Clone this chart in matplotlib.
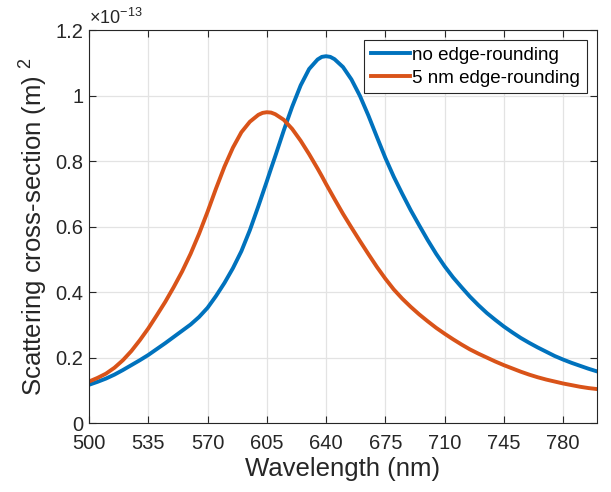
import matplotlib
matplotlib.use('Agg')
import matplotlib.pyplot as plt
from matplotlib.ticker import FuncFormatter

plt.rcParams['font.family'] = ['Liberation Sans', 'DejaVu Sans']
plt.rcParams['mathtext.fontset'] = 'custom'
plt.rcParams['mathtext.rm'] = 'Liberation Sans'
plt.rcParams['mathtext.it'] = 'Liberation Sans'

# wavelength (nm) (finer around the two peaks)
wavelength = [500, 505, 510, 515, 520, 525, 530, 535, 540, 545,
              550, 555, 560, 565, 570, 575, 580, 585, 590, 595,
              600, 602.5, 605, 607.5, 610, 615, 620, 625, 630, 635,
              637.5, 640, 642.5, 645, 650, 655, 660, 665, 670, 675,
              680, 685, 690, 695, 700, 705, 710, 715, 720, 725,
              730, 735, 740, 745, 750, 755, 760, 765, 770, 775,
              780, 785, 790, 795, 800]

# scattering cross-section in units of 1e-13 m^2
no_rounding = [0.117, 0.126, 0.136, 0.148, 0.162, 0.177, 0.192, 0.208, 0.226, 0.244,
               0.263, 0.282, 0.301, 0.324, 0.352, 0.388, 0.428, 0.473, 0.525, 0.589,
               0.662, 0.700, 0.738, 0.777, 0.815, 0.893, 0.966, 1.031, 1.081, 1.110,
               1.118, 1.120, 1.118, 1.111, 1.087, 1.049, 0.999, 0.939, 0.874, 0.810,
               0.752, 0.700, 0.650, 0.604, 0.559, 0.517, 0.479, 0.445, 0.415, 0.386,
               0.360, 0.336, 0.315, 0.295, 0.277, 0.260, 0.245, 0.231, 0.218, 0.205,
               0.194, 0.184, 0.175, 0.166, 0.158]

rounding_5nm = [0.127, 0.138, 0.151, 0.169, 0.192, 0.220, 0.253, 0.289, 0.329, 0.370,
                0.415, 0.463, 0.517, 0.578, 0.645, 0.716, 0.783, 0.841, 0.888, 0.920,
                0.941, 0.947, 0.949, 0.948, 0.943, 0.926, 0.898, 0.862, 0.821, 0.777,
                0.754, 0.730, 0.707, 0.684, 0.639, 0.597, 0.556, 0.516, 0.477, 0.441,
                0.408, 0.380, 0.355, 0.332, 0.311, 0.291, 0.273, 0.256, 0.240, 0.225,
                0.212, 0.200, 0.188, 0.177, 0.167, 0.157, 0.148, 0.140, 0.133, 0.127,
                0.121, 0.116, 0.111, 0.107, 0.104]

labels = ['no edge-rounding', '5 nm edge-rounding']
xticks = [500, 535, 570, 605, 640, 675, 710, 745, 780]
yticks = [0, 0.2, 0.4, 0.6, 0.8, 1.0, 1.2]

dark = '#262626'

fig = plt.figure(figsize=(6.11, 4.92), dpi=100)
ax = fig.add_axes([0.1457, 0.140, 0.8313, 0.799])

ax.plot(wavelength, no_rounding, color='#0072BD', lw=2.8, label=labels[0],
        solid_joinstyle='round')
ax.plot(wavelength, rounding_5nm, color='#D95319', lw=2.8, label=labels[1],
        solid_joinstyle='round')

ax.set_xlim(500, 800)
ax.set_ylim(0, 1.2)
ax.set_xticks(xticks)
ax.set_yticks(yticks)
ax.yaxis.set_major_formatter(FuncFormatter(lambda v, p: '%g' % v))
ax.tick_params(direction='in', top=True, right=True, labelsize=14.5,
               colors=dark, length=5, width=0.8)
ax.tick_params(axis='x', pad=8)
ax.tick_params(axis='y', pad=4)
ax.grid(True, color='#e3e3e3', lw=0.9)
ax.set_axisbelow(True)
for s in ax.spines.values():
    s.set_color(dark)
    s.set_linewidth(0.8)

ax.set_xlabel('Wavelength (nm)', fontsize=18.5, color=dark, labelpad=3)
ax.set_ylabel(r'Scattering cross-section (m) $^{2}$', fontsize=18.5, color=dark, labelpad=4)
ax.text(0.0, 1.005, r'$\times$10$^{-13}$', transform=ax.transAxes,
        fontsize=13, color=dark, ha='left', va='bottom')

leg = ax.legend(loc='upper right', fontsize=13.5, fancybox=False, framealpha=1,
                edgecolor=dark, handlelength=2.1, handletextpad=0.1,
                borderpad=0.35, labelspacing=0.3, borderaxespad=0.55)
leg.get_frame().set_linewidth(0.8)
for t in leg.get_texts():
    t.set_color('black')

fig.savefig('out.png', dpi=100)
